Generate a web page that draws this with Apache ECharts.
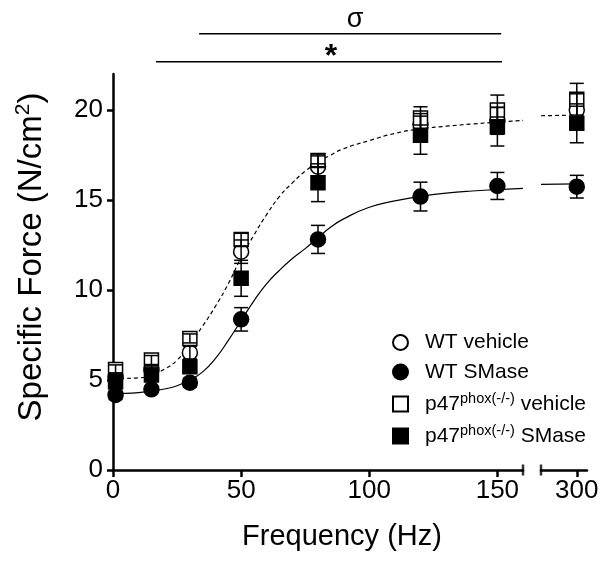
<!DOCTYPE html>
<html><head><meta charset="utf-8">
<script src="https://cdn.jsdelivr.net/npm/echarts@6/dist/echarts.min.js"></script>
<style>html,body{margin:0;padding:0;background:#fff}#c{width:606px;height:566px}</style>
</head><body><div id="c"></div>
<script>
// ---- data ----
const freqs = [1, 15, 30, 50, 80, 120, 150, 300];
const wtVehicleMean  = [5.15, 5.56, 6.52, 12.13, 16.85, 19.2, 19.4, 20.0];
const wtVehicleSem   = [0.25, 0.25, 0.35, 0.65, 0.6, 0.6, 0.75, 0.9];
const wtSmaseMean    = [4.17, 4.48, 4.85, 8.37, 12.81, 15.19, 15.78, 15.74];
const wtSmaseSem     = [0.25, 0.2, 0.25, 0.65, 0.78, 0.8, 0.75, 0.63];
const p47VehicleMean = [5.59, 6.11, 7.31, 12.8, 17.2, 19.55, 20.0, 20.6];
const p47VehicleSem  = [0.25, 0.25, 0.25, 0.35, 0.35, 0.63, 0.83, 0.88];
const p47SmaseMean   = [4.9, 5.28, 5.74, 10.65, 15.96, 18.6, 19.07, 19.26];
const p47SmaseSem    = [0.3, 0.3, 0.3, 1.0, 1.05, 1.06, 1.07, 1.08];

const fitX = [0,5,10,15,20,25,30,35,40,45,50,55,60,65,70,75,80,85,90,100,110,120,130,140,150,160];
const vehicleFit = [5.08,5.09,5.12,5.25,5.6,6.1,7.0,8.0,9.1,10.35,11.8,13.05,14.2,15.2,15.95,16.6,17.1,17.5,17.85,18.3,18.7,18.95,19.1,19.22,19.33,19.42];
const smaseFit   = [4.25,4.26,4.3,4.38,4.5,4.68,5.0,5.45,6.2,7.2,8.3,9.4,10.35,11.1,11.75,12.3,12.9,13.5,13.95,14.6,14.95,15.2,15.38,15.5,15.58,15.65];
const fitX2 = [286, 300];
const vehicleFit2 = [19.68, 19.72];
const smaseFit2   = [15.87, 15.9];

const yTicks = [0, 5, 10, 15, 20];
const xTicks = [0, 50, 100, 150];
const xTicks2 = [300];
const breakEnds = [160, 286];
const sigmaBar = [[33.6, 24.24], [151.5, 24.24]];
const starBar  = [[16.8, 22.68], [151.8, 22.68]];

// ---- chart ----
const FONT = "'Liberation Sans', Arial, sans-serif";
const groups = [
  {name: 'WT vehicle', mean: wtVehicleMean, sem: wtVehicleSem, symbol: 'circle', size: 15, fill: '#fff'},
  {name: 'WT SMase', mean: wtSmaseMean, sem: wtSmaseSem, symbol: 'circle', size: 15, fill: '#000'},
  {name: 'p47phox(-/-) vehicle', mean: p47VehicleMean, sem: p47VehicleSem, symbol: 'rect', size: 14, fill: '#fff'},
  {name: 'p47phox(-/-) SMase', mean: p47SmaseMean, sem: p47SmaseSem, symbol: 'rect', size: 14, fill: '#000'}
];

const series = [];
function zip(xs, ys) { return xs.map((x, i) => [x, ys[i]]); }
// fitted curves
series.push({type: 'line', xAxisIndex: 0, yAxisIndex: 0, data: zip(fitX, vehicleFit), smooth: true, symbol: 'none', silent: true,
  lineStyle: {color: '#000', width: 1.2, type: [4, 3]}, z: 1});
series.push({type: 'line', xAxisIndex: 0, yAxisIndex: 0, data: zip(fitX, smaseFit), smooth: true, symbol: 'none', silent: true,
  lineStyle: {color: '#000', width: 1.2}, z: 1});
series.push({type: 'line', xAxisIndex: 1, yAxisIndex: 1, data: zip(fitX2, vehicleFit2), symbol: 'none', silent: true,
  lineStyle: {color: '#000', width: 1.2, type: [4, 3]}, z: 1});
series.push({type: 'line', xAxisIndex: 1, yAxisIndex: 1, data: zip(fitX2, smaseFit2), symbol: 'none', silent: true,
  lineStyle: {color: '#000', width: 1.2}, z: 1});

function errRender(params, api) {
  const x = api.value(0), y = api.value(1), e = api.value(2);
  const t = api.coord([x, y + e]), b = api.coord([x, y - e]);
  const hw = 7, st = {stroke: '#000', lineWidth: 1.5};
  return {type: 'group', children: [
    {type: 'line', shape: {x1: t[0], y1: t[1], x2: b[0], y2: b[1]}, style: st},
    {type: 'line', shape: {x1: t[0] - hw, y1: t[1], x2: t[0] + hw, y2: t[1]}, style: st},
    {type: 'line', shape: {x1: b[0] - hw, y1: b[1], x2: b[0] + hw, y2: b[1]}, style: st}
  ]};
}

groups.forEach(g => {
  const pts = freqs.map((f, i) => [f, g.mean[i], g.sem[i]]);
  [0, 1].forEach(gi => {
    const sub = pts.filter(p => gi === 0 ? p[0] <= breakEnds[0] : p[0] >= breakEnds[1]);
    series.push({type: 'scatter', name: g.name, xAxisIndex: gi, yAxisIndex: gi,
      data: sub.map(p => [p[0], p[1]]), symbol: g.symbol, symbolSize: g.size,
      itemStyle: {color: g.fill, borderColor: '#000', borderWidth: 1.5, opacity: 1}, z: 3, silent: true});
  });
});
groups.forEach(g => {
  const pts = freqs.map((f, i) => [f, g.mean[i], g.sem[i]]);
  [0, 1].forEach(gi => {
    const sub = pts.filter(p => gi === 0 ? p[0] <= breakEnds[0] : p[0] >= breakEnds[1]);
    series.push({type: 'custom', xAxisIndex: gi, yAxisIndex: gi, data: sub, renderItem: errRender,
      encode: {x: 0, y: 1}, z: 4, silent: true});
  });
});
// axis break end caps
series.push({type: 'scatter', xAxisIndex: 0, yAxisIndex: 0, data: [[breakEnds[0], 0]], symbol: 'rect', symbolSize: [2.5, 11],
  itemStyle: {color: '#000'}, clip: false, silent: true, z: 5});
series.push({type: 'scatter', xAxisIndex: 1, yAxisIndex: 1, data: [[breakEnds[1], 0]], symbol: 'rect', symbolSize: [2.5, 11],
  itemStyle: {color: '#000'}, clip: false, silent: true, z: 5});
// significance bars
[sigmaBar, starBar].forEach(bar => series.push({type: 'line', xAxisIndex: 0, yAxisIndex: 0, data: bar, symbol: 'none', clip: false,
  silent: true, lineStyle: {color: '#000', width: 1.5}, z: 5}));

const axisCommon = {
  axisLine: {show: true, lineStyle: {color: '#000', width: 2.5}},
  splitLine: {show: false}
};

const option = {
  animation: false,
  backgroundColor: '#fff',
  textStyle: {fontFamily: FONT},
  grid: [
    {left: 113, top: 74, width: 410, height: 396},
    {left: 541, top: 74, width: 46, height: 396}
  ],
  xAxis: [
    Object.assign({type: 'value', gridIndex: 0, min: 0, max: 160,
      axisTick: {show: true, customValues: xTicks, length: 7, lineStyle: {color: '#000', width: 2.5}},
      axisLabel: {customValues: xTicks, fontSize: 26, color: '#000', margin: 8, fontFamily: FONT}}, axisCommon),
    Object.assign({type: 'value', gridIndex: 1, min: 286, max: 304,
      axisTick: {show: true, customValues: xTicks2, length: 7, lineStyle: {color: '#000', width: 2.5}},
      axisLabel: {customValues: xTicks2, fontSize: 26, color: '#000', margin: 8, fontFamily: FONT}}, axisCommon)
  ],
  yAxis: [
    Object.assign({type: 'value', gridIndex: 0, min: 0, max: 22,
      axisTick: {show: true, customValues: yTicks, length: 6, lineStyle: {color: '#000', width: 2.5}},
      axisLabel: {customValues: yTicks, fontSize: 26, color: '#000', margin: 10, fontFamily: FONT},
      name: '{a|Specific Force (N/cm}{s|2}{a|)}', nameLocation: 'middle', nameRotate: 90, nameGap: 62,
      nameTextStyle: {padding: [0, 0, 0, 30], rich: {
        a: {fontSize: 33, color: '#000', fontFamily: FONT, lineHeight: 38},
        s: {fontSize: 21, color: '#000', fontFamily: FONT, verticalAlign: 'top', lineHeight: 38}}}}, axisCommon),
    {type: 'value', gridIndex: 1, min: 0, max: 22, show: false}
  ],
  legend: {
    data: groups.map(g => g.name), orient: 'vertical', left: 387, top: 327, itemWidth: 15, itemHeight: 15, itemGap: 8.5,
    selectedMode: false,
    formatter: n => n.startsWith('p47') ? '{g| }{t|p47}{s|phox(-/-)}{t|' + n.slice(12) + '}' : '{g| }{t|' + n + '}',
    textStyle: {rich: {
      g: {width: 12},
      t: {fontSize: 21, color: '#000', fontFamily: FONT, lineHeight: 26},
      s: {fontSize: 14.5, color: '#000', fontFamily: FONT, lineHeight: 26, verticalAlign: 'top'}}}
  },
  graphic: [
    {type: 'text', x: 342, y: 537, style: {text: 'Frequency (Hz)', font: '29px ' + FONT, fill: '#000', textAlign: 'center', textVerticalAlign: 'middle'}},
    {type: 'text', x: 355, y: 20, style: {text: 'σ', font: '27px ' + FONT, fill: '#000', textAlign: 'center', textVerticalAlign: 'middle'}},
    {type: 'text', x: 331, y: 57, style: {text: '*', font: 'bold 32px ' + FONT, fill: '#000', textAlign: 'center', textVerticalAlign: 'middle'}}
  ],
  series: series
};
echarts.init(document.getElementById('c'), null, {renderer: 'canvas'}).setOption(option);
</script></body></html>
